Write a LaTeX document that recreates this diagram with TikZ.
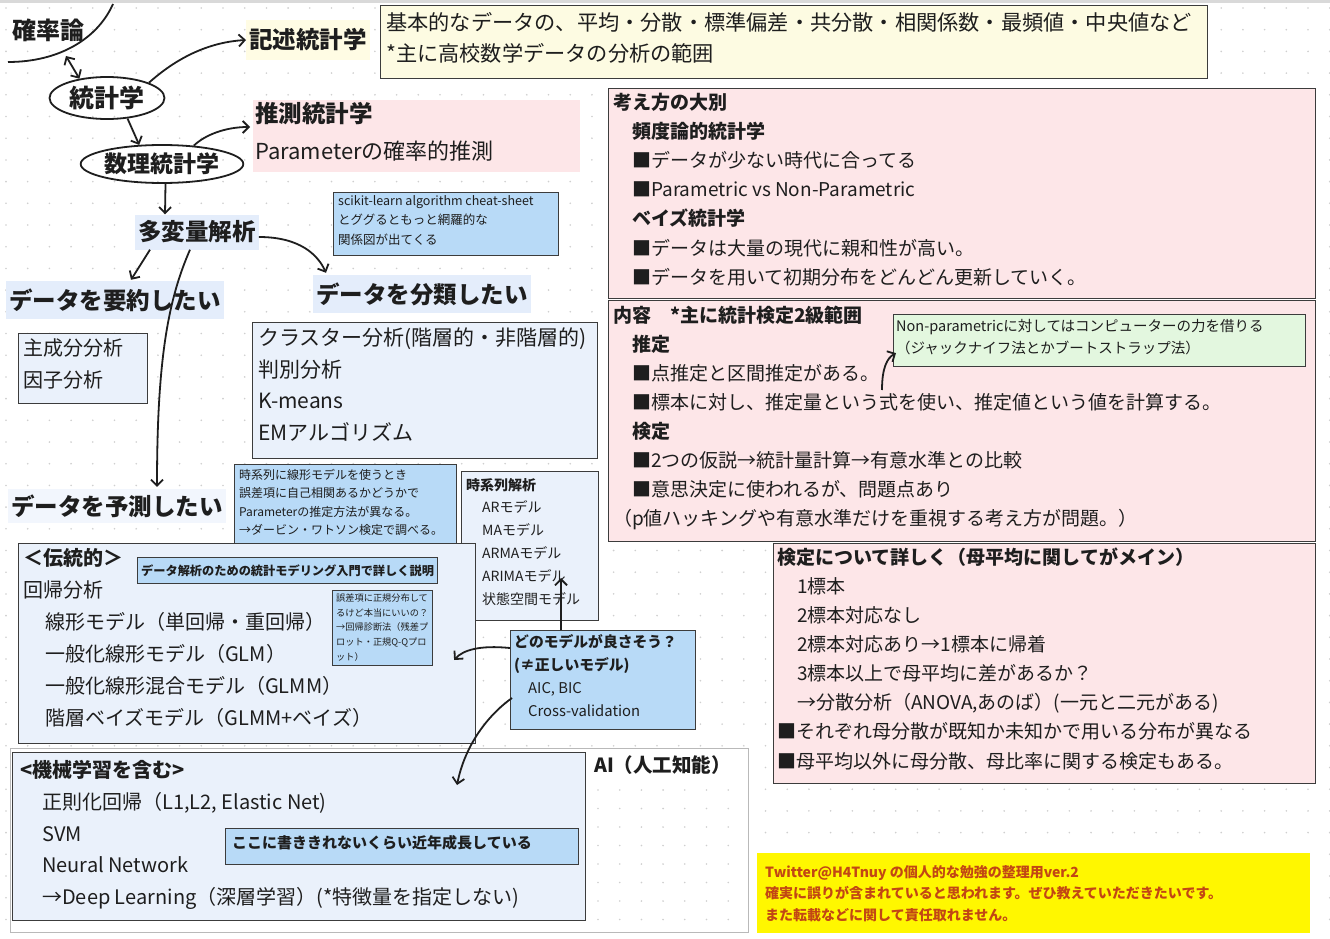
\documentclass[tikz,border=0pt]{standalone}
\usepackage{fontspec}
\setmainfont{Noto Sans CJK JP}
\usetikzlibrary{arrows.meta,calc,shapes.geometric}
\newcommand{\fsz}[2]{\fontsize{#1}{#2}\selectfont}
\definecolor{ink}{HTML}{1E1E1E}
\definecolor{frameC}{HTML}{3C3C3C}
\definecolor{ybg}{HTML}{FDFBE2}
\definecolor{ylab}{HTML}{FFFCE4}
\definecolor{pinkbg}{HTML}{FDE6E8}
\definecolor{lblue}{HTML}{EAF1FB}
\definecolor{labblue}{HTML}{E4EDFB}
\definecolor{nblue}{HTML}{B8DAF7}
\definecolor{gbg}{HTML}{E3F7DF}
\definecolor{ylwbg}{HTML}{FFF700}
\definecolor{orangeT}{HTML}{C24614}
\definecolor{dotC}{HTML}{CFCFCF}
\begin{document}
\begin{tikzpicture}[x=1pt,y=-1pt,
  every node/.style={text=ink},
  arr/.style={draw=ink,line width=1.8pt,-{Straight Barb[length=6pt,width=12pt]}},
  dbl/.style={draw=ink,line width=1.8pt,{Straight Barb[length=6pt,width=12pt]}-{Straight Barb[length=6pt,width=12pt]}},
  frame/.style={draw=frameC,line width=1.1pt,rectangle,inner sep=0,anchor=north west},
  txt/.style={anchor=north west,inner sep=0,align=left},
  lab/.style={anchor=west,inner xsep=3pt,inner ysep=0pt,font=\bfseries\fsz{23.5}{24}},
  oval/.style={ellipse,draw=ink,line width=1.8pt,inner sep=0}
]
\useasboundingbox (0,0) rectangle (1330,939);
\fill[white] (0,0) rectangle (1330,939);
\fill[gray!30] (0,0) rectangle (1330,3);
% dot grid
\foreach \i in {0,...,61}{
  \foreach \j in {0,...,43}{
    \fill[dotC] (6+\i*21.7,8+\j*21.7) circle (0.9pt);
  }
}

% ---------- left top ----------
\node[anchor=west,inner sep=0,font=\bfseries\fsz{24}{24}] (kak) at (12,30) {確率論};
\coordinate (kc1) at (8,62);
\coordinate (kc2) at (113,4);
\draw[line width=1.8pt,ink] (kc1) .. controls (60,62) and (98,38) .. (kc2);
\coordinate (kc3) at (66,56);

\node[oval,minimum width=115pt,minimum height=42pt,font=\bfseries\fsz{25}{25}] (tok) at (107,98) {統計学};
\node[oval,minimum width=134pt,minimum height=38pt,font=\bfseries\fsz{23}{23}] (suri) at (162,164) {数理統計学};

\node[lab,fill=ylab,minimum height=40pt] (kij) at (246,40) {記述統計学};

\node[frame,fill=ybg,minimum width=827pt,minimum height=73pt] (topb) at (380,5) {};
\node[txt,font=\fsz{21.2}{31}] (topt) at (386,12) {基本的なデータの、平均・分散・標準偏差・共分散・相関係数・最頻値・中央値など\\{}*主に高校数学データの分析の範囲};

\node[rectangle,inner sep=0,anchor=north west,fill=pinkbg,minimum width=327pt,minimum height=72pt] (sui) at (253,100) {};
\node[txt,font=\fsz{22}{37}] (suit) at (255,102) {{\bfseries\fsz{23.5}{37}推測統計学}\\Parameterの確率的推測};

\node[lab,fill=labblue,minimum height=35pt] (tah) at (135,232) {多変量解析};
\node[lab,fill=labblue,minimum height=38pt] (yoy) at (6,300) {データを要約したい};
\node[lab,fill=labblue,minimum height=38pt] (bun) at (313,294) {データを分類したい};
\node[lab,fill=labblue!50,minimum height=34pt] (yos) at (8,506) {データを予測したい};

\node[frame,fill=nblue,minimum width=225pt,minimum height=63pt] (sk) at (333,192) {};
\node[txt,font=\fsz{12.5}{19.5}] (skt) at (338,195) {scikit-learn algorithm cheat-sheet\\とググるともっと網羅的な\\関係図が出てくる};

\node[frame,fill=lblue,minimum width=129pt,minimum height=70pt] (pca) at (18,333) {};
\node[txt,font=\fsz{20}{32}] (pcat) at (23,338) {主成分分析\\因子分析};

\node[frame,fill=lblue,minimum width=345pt,minimum height=136pt] (clus) at (252,322) {};
\node[txt,font=\fsz{21}{31.7}] (clust) at (258,327.5) {クラスター分析(階層的・非階層的)\\判別分析\\K-means\\EMアルゴリズム};

\node[frame,fill=nblue,minimum width=222pt,minimum height=82pt] (tsn) at (234,464) {};
\node[txt,font=\fsz{12}{18.3}] (tsnt) at (239,469) {時系列に線形モデルを使うとき\\誤差項に自己相関あるかどうかで\\Parameterの推定方法が異なる。\\→ダービン・ワトソン検定で調べる。};

\node[frame,fill=lblue,minimum width=137pt,minimum height=149pt] (tsl) at (461,471) {};
\node[txt,font=\fsz{14}{22.8}] (tslt) at (466,478) {\textbf{時系列解析}\\\hspace*{16pt}ARモデル\\\hspace*{16pt}MAモデル\\\hspace*{16pt}ARMAモデル\\\hspace*{16pt}ARIMAモデル\\\hspace*{16pt}状態空間モデル};

% ---------- traditional ----------
\node[frame,fill=lblue,minimum width=457pt,minimum height=200pt] (trad) at (18,543) {};
\node[txt,font=\fsz{20}{32}] (tradt) at (23,548) {\textbf{＜伝統的＞}\\回帰分析\\\hspace*{22pt}線形モデル（単回帰・重回帰）\\\hspace*{22pt}一般化線形モデル（GLM）\\\hspace*{22pt}一般化線形混合モデル（GLMM）\\\hspace*{22pt}階層ベイズモデル（GLMM+ベイズ）};
\node[frame,fill=nblue,minimum width=300pt,minimum height=26pt] (tradn) at (137,557) {};
\node[inner sep=0,font=\bfseries\fsz{12.2}{14}] (tradnt) at (tradn.center) {データ解析のための統計モデリング入門で詳しく説明};
\node[frame,fill=nblue,minimum width=100pt,minimum height=75pt] (gosa) at (332,590) {};
\node[txt,font=\fsz{9.2}{14.8}] (gosat) at (336,593.4) {誤差項に正規分布して\\るけど本当にいいの？\\→回帰診断法（残差プ\\ロット・正規Q-Qプロ\\ット）};

\node[frame,fill=nblue,minimum width=185pt,minimum height=99pt] (model) at (510,630) {};
\node[txt,font=\fsz{14.8}{23}] (modelt) at (514,634.6) {\textbf{どのモデルが良さそう？}\\\textbf{(≠正しいモデル)}\\\hspace*{14pt}AIC, BIC\\\hspace*{14pt}Cross-validation};

% ---------- AI / ML ----------
\node[frame,draw=gray!55,line width=0.8pt,fill=white,minimum width=738pt,minimum height=184pt] (ai) at (10,748) {};
\foreach \i in {0,...,6}{
  \foreach \j in {0,...,7}{
    \fill[dotC] (598+\i*21.7,790+\j*18.5) circle (0.9pt);
  }
}
\node[anchor=west,inner sep=0,font=\bfseries\fsz{19.5}{20}] (ailab) at (594,765) {AI（人工知能）};
\node[frame,fill=lblue,minimum width=573pt,minimum height=168pt] (ml) at (12,752) {};
\node[txt,font=\fsz{20}{31.8}] (mlt) at (20,760) {\textbf{<機械学習を含む>}\\\hspace*{22pt}正則化回帰（L1,L2, Elastic Net)\\\hspace*{22pt}SVM\\\hspace*{22pt}Neural Network\\\hspace*{22pt}→Deep Learning（深層学習）(*特徴量を指定しない)};
\node[frame,fill=nblue,minimum width=353pt,minimum height=36pt] (mln) at (225,828) {};
\node[anchor=west,inner sep=0,font=\bfseries\fsz{15}{16}] (mlnt) at (232,843) {ここに書ききれないくらい近年成長している};

% ---------- right side ----------
\node[frame,fill=pinkbg,minimum width=707pt,minimum height=210pt] (p1) at (608,88) {};
\node[txt,font=\fsz{19}{29.2}] (p1t) at (613,92.5) {\textbf{考え方の大別}\\\hspace*{19pt}\textbf{頻度論的統計学}\\\hspace*{19pt}■データが少ない時代に合ってる\\\hspace*{19pt}■Parametric vs Non-Parametric\\\hspace*{19pt}\textbf{ベイズ統計学}\\\hspace*{19pt}■データは大量の現代に親和性が高い。\\\hspace*{19pt}■データを用いて初期分布をどんどん更新していく。};

\node[frame,fill=pinkbg,minimum width=542pt,minimum height=240pt] (p3) at (773,543) {};
\node[txt,font=\fsz{19}{29.1}] (p3t) at (777,547.5) {\textbf{検定について詳しく（母平均に関してがメイン）}\\\hspace*{20pt}1標本\\\hspace*{20pt}2標本対応なし\\\hspace*{20pt}2標本対応あり→1標本に帰着\\\hspace*{20pt}3標本以上で母平均に差があるか？\\\hspace*{20pt}→分散分析（ANOVA,あのば）(一元と二元がある)\\■それぞれ母分散が既知か未知かで用いる分布が異なる\\■母平均以外に母分散、母比率に関する検定もある。};

\node[frame,fill=pinkbg,minimum width=707pt,minimum height=241pt] (p2) at (608,300) {};
\node[txt,font=\fsz{19}{29.1}] (p2t) at (613,305.5) {\textbf{内容　*主に統計検定2級範囲}\\\hspace*{19pt}\textbf{推定}\\\hspace*{19pt}■点推定と区間推定がある。\\\hspace*{19pt}■標本に対し、推定量という式を使い、推定値という値を計算する。\\\hspace*{19pt}\textbf{検定}\\\hspace*{19pt}■2つの仮説→統計量計算→有意水準との比較\\\hspace*{19pt}■意思決定に使われるが、問題点あり\\（p値ハッキングや有意水準だけを重視する考え方が問題。）};

\node[frame,fill=gbg,minimum width=412pt,minimum height=52pt] (grn) at (893,314) {};
\node[txt,font=\fsz{14.5}{22}] (grnt) at (896,318.8) {Non-parametricに対してはコンピューターの力を借りる\\（ジャックナイフ法とかブートストラップ法）};

\node[rectangle,inner sep=0,anchor=north west,fill=ylwbg,minimum width=553pt,minimum height=80pt] (ylw) at (757,853) {};
\node[txt,text=orangeT,font=\bfseries\fsz{14}{21.5}] (ylwt) at (765,865) {Twitter@H4Tnuy の個人的な勉強の整理用ver.2\\確実に誤りが含まれていると思われます。ぜひ教えていただきたいです。\\また転載などに関して責任取れません。};

% ---------- connectors ----------
\draw[dbl] (kc3) -- (tok.145);
\draw[arr] (tok.20) .. controls (180,55) and (212,42) .. (kij.west);
\draw[arr] (tok.-45) -- (suri.140);
\draw[arr] (suri.30) .. controls (205,135) and (225,127) .. ($(sui.north west)+(-3,27)$);
\draw[arr] (suri.-80) -- ($(tah.north west)+(30,0)$);
\draw[arr] ($(tah.east)+(0,5)$) .. controls (300,237) and (318,255) .. ($(bun.north west)+(13,-2)$);
\draw[arr] ($(tah.south west)+(15,0)$) -- ($(yoy.north west)+(125,-1)$);
\draw[arr] ($(tah.south west)+(55,0)$) .. controls (168,300) and (157,360) .. ($(yos.north west)+(149,-2)$);
\draw[arr] ($(model.north west)+(0,18)$) .. controls (480,645) and (463,650) .. ($(trad.north east)+(-22,117)$);
\draw[arr] ($(model.north west)+(51,0)$) -- ($(tsl.north west)+(100,107)$);
\draw[arr] ($(model.north west)+(2,68)$) .. controls (488,715) and (465,745) .. ($(ml.north west)+(445,33)$);
\draw[arr] ($(p2.north west)+(274,90)$) .. controls (882,368) and (887,358) .. ($(grn.south west)+(3,-14)$);
\end{tikzpicture}
\end{document}
